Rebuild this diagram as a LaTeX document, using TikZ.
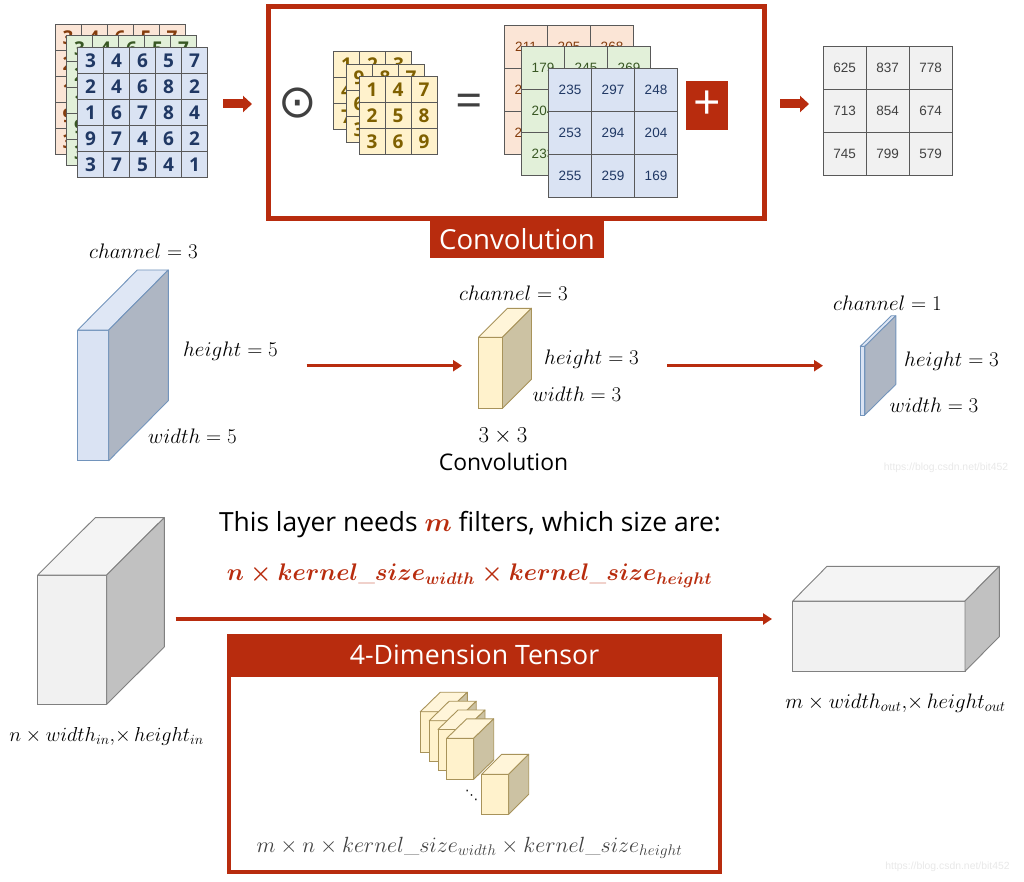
\RequirePackage{fix-cm}
\documentclass[tikz,border=0pt]{standalone}
\usepackage{amsmath, amssymb}
\usepackage{bm}
\usepackage{fontspec}
\usetikzlibrary{arrows.meta}
\newfontfamily\uifont{Open Sans}
\newfontfamily\numfont{Liberation Sans}
\newfontfamily\symfont{DejaVu Sans}
\definecolor{convred}{HTML}{B82C0E}
\definecolor{gridline}{HTML}{595959}
\definecolor{redfill}{HTML}{FBE5D6}
\definecolor{redtext}{HTML}{843C0C}
\definecolor{greenfill}{HTML}{E2F0D9}
\definecolor{greentext}{HTML}{385723}
\definecolor{bluetext}{HTML}{203864}
\definecolor{yellowtext}{HTML}{7F6000}
\definecolor{graytext}{HTML}{404040}
\definecolor{bluefront}{HTML}{DAE3F3}
\definecolor{bluetop}{HTML}{DFE7F5}
\definecolor{blueside}{HTML}{AEB6C3}
\definecolor{blueedge}{HTML}{7294BC}
\definecolor{yellowfront}{HTML}{FFF2CC}
\definecolor{yellowtop}{HTML}{FFF5D9}
\definecolor{yellowside}{HTML}{CCC2A3}
\definecolor{yellowedge}{HTML}{A8935A}
\definecolor{grayfront}{HTML}{F1F1F1}
\definecolor{graytop}{HTML}{F4F4F4}
\definecolor{grayside}{HTML}{C1C1C1}
\definecolor{grayedge}{HTML}{808080}
\definecolor{stampgray}{HTML}{E8E8E8}
\newcommand{\gridmat}[7]{%
    \foreach \val [count=\idx from 0] in {#7} {
        \pgfmathtruncatemacro{\col}{mod(\idx,#5)}
        \pgfmathtruncatemacro{\row}{int(\idx/#5)}
        \node[cell,#6,minimum size=#4pt] (#1-\row-\col)
            at ({#2+(\col+0.5)*#4},{#3+(\row+0.5)*#4}) {\val};
    }}
\newcommand{\cuboid}[8]{%
    \node[rectangle,draw=#8edge,fill=#8front,minimum width=#4pt,minimum height=#5pt,
        inner sep=0pt,outer sep=0pt,anchor=north west,line width=0.9pt] (#1) at (#2,#3) {};
    \draw[draw=#8edge,fill=#8top,line width=0.9pt,line join=round]
        (#1.north west) -- ++(#6,-#7) -- ++(#4,0) -- (#1.north east) -- cycle;
    \draw[draw=#8edge,fill=#8side,line width=0.9pt,line join=round]
        (#1.north east) -- ++(#6,-#7) -- ++(0,#5) -- (#1.south east) -- cycle;
}
\begin{document}
\begin{tikzpicture}[x=1pt,y=-1pt,
                cell/.style={rectangle,draw=gridline,line width=1pt,inner sep=0pt,outer sep=0pt},
                digit/.style={font=\uifont\bfseries\fontsize{19}{19}\selectfont},
                value/.style={line width=0.9pt,font=\numfont\fontsize{13.5}{13.5}\selectfont},
                redcell/.style={fill=redfill,text=redtext},
                greencell/.style={fill=greenfill,text=greentext},
                bluecell/.style={fill=bluefront,text=bluetext},
                yellowcell/.style={fill=yellowfront,text=yellowtext},
                graycell/.style={fill=grayfront,text=graytext},
                fatarrow/.style={draw=convred,line width=9pt,-{Triangle[width=16pt,length=9pt]}},
                flowarrow/.style={draw=convred,line width=2.6pt,-{Triangle[width=11pt,length=9pt]}},
                eqn/.style={inner sep=0pt,font=\fontsize{21}{24}\selectfont,text=black},
                caption/.style={inner sep=0pt,font=\uifont\fontsize{22.9}{26}\selectfont,text=black},
                banner/.style={rectangle,fill=convred,text=white,inner sep=0pt,outer sep=0pt},
                stamp/.style={inner sep=0pt,font=\numfont\fontsize{10.4}{13}\selectfont,text=stampgray}]
    \useasboundingbox (0,0) rectangle (1024,882);

    \gridmat{inr}{55}{24.5}{26}{5}{redcell,digit}{3,4,6,5,7,2,4,6,8,2,1,6,7,8,4,9,7,4,6,2,3,7,5,4,1}
    \gridmat{ing}{66.5}{36}{26}{5}{greencell,digit}{3,4,6,5,7,2,4,6,8,2,1,6,7,8,4,9,7,4,6,2,3,7,5,4,1}
    \gridmat{inb}{77.5}{47.5}{26}{5}{bluecell,digit}{3,4,6,5,7,2,4,6,8,2,1,6,7,8,4,9,7,4,6,2,3,7,5,4,1}

    \coordinate (fatAstart) at (223,104);
    \coordinate (fatAend) at (252,104);
    \draw[fatarrow] (fatAstart) -- (fatAend);

    \node[rectangle,draw=convred,line width=4.5pt,minimum width=496pt,minimum height=212pt,
        inner sep=0pt,outer sep=0pt] (convframe) at (516.3,112.5) {};
    \node[banner,minimum width=174pt,minimum height=38pt,font=\uifont\fontsize{27.6}{30}\selectfont] (convlabel) at (517,239.5) {\raisebox{1.5pt}{Convolution}};

    \node[inner sep=0pt,text=graytext,font=\symfont\fontsize{46}{46}\selectfont] (odot) at (298,103) {⊙};

    \gridmat{kerA}{333.5}{52}{26}{3}{yellowcell,digit}{1,2,3,4,5,6,7,8,9}
    \gridmat{kerB}{346}{64.5}{26}{3}{yellowcell,digit}{9,8,7,6,5,4,3,2,1}
    \gridmat{kerC}{359}{77}{26}{3}{yellowcell,digit}{1,4,7,2,5,8,3,6,9}

    \node[inner sep=0pt,text=graytext,font=\uifont\fontsize{48}{48}\selectfont] (equal) at (469.5,106) {=};

    \gridmat{outr}{504.5}{25}{43}{3}{redcell,value}{211,205,268,218,231,240,226,219,237}
    \gridmat{outg}{521.5}{46}{43}{3}{greencell,value}{179,245,269,204,263,230,233,221,173}
    \gridmat{outb}{548.5}{68}{43}{3}{bluecell,value}{235,297,248,253,294,204,255,259,169}

    \node[rectangle,fill=convred,text=white,inner sep=0pt,minimum width=42pt,minimum height=48.5pt,
        font=\uifont\fontsize{48}{48}\selectfont] (plus) at (707,105.3) {\raisebox{-10pt}{+}};

    \coordinate (fatBstart) at (780,104);
    \coordinate (fatBend) at (809,104);
    \draw[fatarrow] (fatBstart) -- (fatBend);

    \gridmat{sum}{823}{46}{43}{3}{graycell,value}{625,837,778,713,854,674,745,799,579}

    \cuboid{slabin}{77.7}{330}{31}{130.7}{59.6}{60}{blue}
    \node[eqn] (slabch) at (143.5,251) {$channel = 3$};
    \node[eqn] (slabh) at (230.5,351) {$height = 5$};
    \node[eqn] (slabw) at (192.5,436) {$width = 5$};

    \coordinate (flowAstart) at (306.5,365.7);
    \coordinate (flowAend) at (462,365.7);
    \draw[flowarrow] (flowAstart) -- (flowAend);

    \cuboid{slabker}{478.5}{337.3}{24}{71}{29}{29}{yellow}
    \node[eqn] (kerch) at (513.5,293) {$channel = 3$};
    \node[eqn] (kerh) at (591.5,359) {$height = 3$};
    \node[eqn] (kerw) at (577,394) {$width = 3$};
    \node[eqn,font=\fontsize{22.8}{26}\selectfont] (kersize) at (503,436) {$3 \times 3$};
    \node[caption] (kername) at (503.5,462) {Convolution};

    \coordinate (flowBstart) at (667,365.7);
    \coordinate (flowBend) at (823,365.7);
    \draw[flowarrow] (flowBstart) -- (flowBend);

    \cuboid{slabout}{860.3}{346.3}{4.5}{68.7}{31}{30.6}{blue}
    \node[eqn] (outch) at (887.5,303) {$channel = 1$};
    \node[eqn] (outh) at (951.5,361) {$height = 3$};
    \node[eqn] (outw) at (934,405) {$width = 3$};

    \node[stamp] (markA) at (946,468) {https://blog.csdn.net/bit452};

    \cuboid{boxin}{37.7}{575}{69}{129.3}{57.6}{57.4}{gray}
    \node[eqn,font=\fontsize{20.2}{22}\selectfont] (boxinlabel) at (106.5,736) {$n \times width_{in},\!{\times}\,height_{in}$};

    \node[inner sep=0pt,font=\uifont\fontsize{26.4}{30}\selectfont,text=black] (needs) at (470,524.5)
        {This layer needs \textcolor{convred}{$\bm{m}$} filters, which size are:};
    \node[inner sep=0pt,text=convred,font=\boldmath\fontsize{24}{28}\selectfont] (filtersize) at (469.5,575.5)
        {$n \times kernel\_size_{width} \times kernel\_size_{height}$};

    \coordinate (flowCstart) at (175.5,619);
    \coordinate (flowCend) at (772,619);
    \draw[flowarrow,line width=3.2pt] (flowCstart) -- (flowCend);

    \node[rectangle,draw=convred,line width=4pt,minimum width=491pt,minimum height=236.5pt,
        inner sep=0pt,outer sep=0pt] (tensorframe) at (474.5,754) {};
    \node[banner,minimum width=495pt,minimum height=43.5pt,font=\uifont\fontsize{26.7}{30}\selectfont] (tensorlabel) at (474.5,655.5) {\raisebox{1pt}{4-Dimension Tensor}};

    \cuboid{kernA}{420.3}{711.7}{27}{41}{20}{19.5}{yellow}
    \cuboid{kernB}{429.2}{720.7}{27}{41}{20}{19.5}{yellow}
    \cuboid{kernC}{438}{729.5}{27}{41}{20}{19.5}{yellow}
    \cuboid{kernD}{446.7}{738.3}{27}{41}{20}{19.5}{yellow}
    \cuboid{kernE}{481.7}{774.3}{27}{40}{20}{20}{yellow}
    \node[inner sep=0pt,font=\symfont\fontsize{13}{13}\selectfont] (kerndots) at (471.5,795.5) {⋱};
    \node[eqn,font=\fontsize{22}{26}\selectfont,text=graytext] (tensorsize) at (469.5,848)
        {$m \times n \times kernel\_size_{width} \times kernel\_size_{height}$};

    \cuboid{boxout}{792.7}{601}{172.3}{70.3}{34.3}{34.7}{gray}
    \node[eqn,font=\fontsize{20.9}{23}\selectfont] (boxoutlabel) at (895.5,703) {$m \times width_{out},\!{\times}\,height_{out}$};

    \node[stamp] (markB) at (947.5,867) {https://blog.csdn.net/bit452};
\end{tikzpicture}
\end{document}
